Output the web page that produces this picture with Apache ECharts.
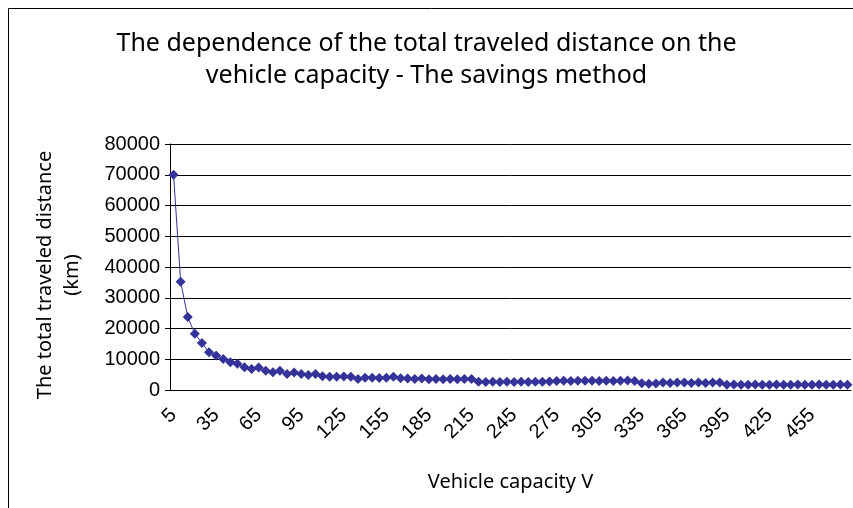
<!DOCTYPE html>
<html>
<head>
<meta charset="utf-8">
<script src="https://cdn.jsdelivr.net/npm/echarts@6/dist/echarts.min.js"></script>
<style>
html,body{margin:0;padding:0;background:#fff;}
#chart{width:853px;height:508px;}
</style>
</head>
<body>
<div id="chart"></div>
<script>
// vehicle capacity V (categories)
var capacity=[5,10,15,20,25,30,35,40,45,50,55,60,65,70,75,80,85,90,95,100,
  105,110,115,120,125,130,135,140,145,150,155,160,165,170,175,180,185,190,195,200,
  205,210,215,220,225,230,235,240,245,250,255,260,265,270,275,280,285,290,295,300,
  305,310,315,320,325,330,335,340,345,350,355,360,365,370,375,380,385,390,395,400,
  405,410,415,420,425,430,435,440,445,450,455,460,465,470,475,480];
// total traveled distance (km)
var distance=[70000,35200,23700,18300,15300,12300,11200,10100,9000,8500,
  7400,6800,7300,6300,5800,6300,5200,5700,5200,4900,
  5200,4500,4300,4300,4400,4300,3600,4000,4000,3900,
  4000,4300,3800,3700,3600,3700,3500,3600,3500,3600,
  3500,3600,3600,2700,2600,2700,2600,2700,2600,2700,
  2600,2700,2700,2800,2900,3000,2900,3000,3000,3000,
  2900,3000,2900,3000,3100,2900,2200,2000,2100,2400,
  2300,2400,2400,2300,2400,2300,2400,2400,1700,1800,
  1700,1700,1800,1700,1700,1800,1700,1700,1800,1700,
  1700,1800,1700,1700,1800,1700];
var yTicks={min:0,max:80000,step:10000};

var chart=echarts.init(document.getElementById('chart'),null,{renderer:'canvas'});
var fontName='"Liberation Sans", Arial, sans-serif';

var option={
  animation:false,
  backgroundColor:'#fff',
  title:{
    text:'The dependence of the total traveled distance on the\nvehicle capacity - The savings method',
    left:'center',
    top:23,
    padding:[5,0,5,16],
    textStyle:{fontFamily:'"Noto Sans", sans-serif',fontSize:25,fontWeight:'normal',color:'#000',lineHeight:32}
  },
  graphic:[{
    type:'rect',
    shape:{x:8.5,y:8.5,width:860,height:520},
    style:{fill:'none',stroke:'#000',lineWidth:1}
  }],
  grid:{left:170,right:2,top:144,bottom:118},
  xAxis:{
    type:'category',
    data:capacity,
    boundaryGap:true,
    name:'Vehicle capacity V',
    nameLocation:'middle',
    nameGap:82,
    nameTextStyle:{fontFamily:'"Noto Sans", sans-serif',fontSize:20,color:'#000'},
    axisLine:{lineStyle:{color:'#000',width:1}},
    axisTick:{interval:0,length:5,lineStyle:{color:'#000'}},
    axisLabel:{interval:5,rotate:45,fontFamily:fontName,fontSize:20,color:'#000',margin:22}
  },
  yAxis:{
    type:'value',
    min:yTicks.min,
    max:yTicks.max,
    interval:yTicks.step,
    name:'The total traveled distance\n(km)',
    nameLocation:'middle',
    nameGap:84,
    nameTextStyle:{fontFamily:'"Noto Sans", sans-serif',fontSize:20,color:'#000',lineHeight:27,padding:[0,16,0,0]},
    axisLine:{show:true,lineStyle:{color:'#000',width:1}},
    axisTick:{show:true,length:5,lineStyle:{color:'#000'}},
    axisLabel:{fontFamily:fontName,fontSize:20,color:'#000',margin:10,
      formatter:function(v){return String(v);}},
    splitLine:{lineStyle:{color:'#000',width:1}}
  },
  series:[{
    type:'line',
    data:distance,
    symbol:'diamond',
    symbolSize:10,
    showAllSymbol:true,
    lineStyle:{color:'#333399',width:1},
    itemStyle:{color:'#333399'}
  }]
};
chart.setOption(option);
</script>
</body>
</html>
